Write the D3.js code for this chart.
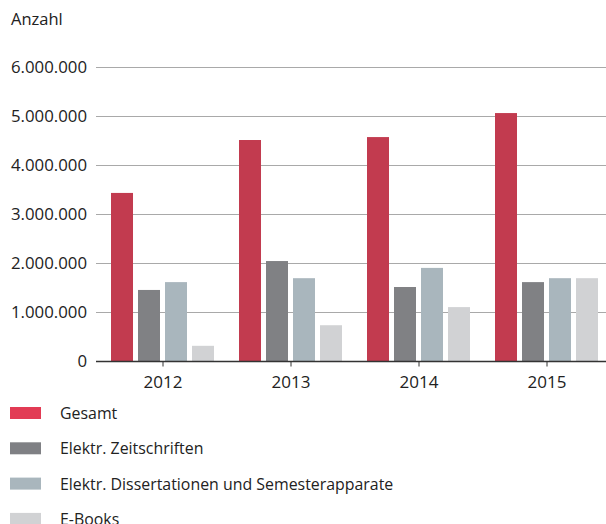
<!DOCTYPE html>
<html>
<head>
<meta charset="utf-8">
<script src="https://cdn.jsdelivr.net/npm/d3@7"></script>
<style>
  body { margin: 0; background: #fff; }
  svg text { font-family: "Open Sans", "Noto Sans", sans-serif; fill: #222; }
</style>
</head>
<body>
<svg id="chart" width="606" height="524"></svg>
<script>
// data
const years = ["2012", "2013", "2014", "2015"];
const seriesNames = ["Gesamt", "Elektr. Zeitschriften", "Elektr. Dissertationen und Semesterapparate", "E-Books"];
const gesamt = [3430000, 4510000, 4570000, 5060000];
const zeitschriften = [1450000, 2040000, 1510000, 1610000];
const dissertationen = [1610000, 1690000, 1900000, 1690000];
const ebooks = [310000, 730000, 1100000, 1690000];
const yTicks = [0, 1000000, 2000000, 3000000, 4000000, 5000000, 6000000];

const barColors = ["#c23b4f", "#808184", "#a9b6bd", "#d1d2d4"];
const legendColors = ["#e23b54", "#7f8084", "#a9b6bd", "#d1d2d4"];

const values = [gesamt, zeitschriften, dissertationen, ebooks];

const svg = d3.select("#chart");

const x = d3.scaleBand().domain(years).range([99, 611]).padding(0);
const xSeries = d3.scaleBand().domain(seriesNames).range([12, 115]).paddingInner(0.185);
const y = d3.scaleLinear().domain([0, 6000000]).range([361, 67]);

const fmt = d => d3.format(",")(d).replace(/,/g, ".");

// gridlines
svg.append("g")
  .selectAll("line")
  .data(yTicks.filter(d => d > 0))
  .join("line")
  .attr("x1", 96).attr("x2", 606)
  .attr("y1", d => Math.round(y(d)) + 0.5)
  .attr("y2", d => Math.round(y(d)) + 0.5)
  .attr("stroke", "#a9a9a9");

// y tick labels
svg.append("g")
  .selectAll("text")
  .data(yTicks)
  .join("text")
  .attr("x", 87)
  .attr("y", d => y(d))
  .attr("dy", "0.35em")
  .attr("text-anchor", "end")
  .attr("font-size", 16.8)
  .text(fmt);

svg.append("text")
  .attr("x", 11).attr("y", 25)
  .attr("font-size", 16.5)
  .text("Anzahl");

// bars
const groups = svg.append("g")
  .selectAll("g")
  .data(years)
  .join("g")
  .attr("transform", d => `translate(${x(d)},0)`);

groups.selectAll("rect")
  .data((yr, i) => seriesNames.map((s, j) => ({ s, j, v: values[j][i] })))
  .join("rect")
  .attr("x", d => xSeries(d.s))
  .attr("width", xSeries.bandwidth())
  .attr("y", d => y(d.v))
  .attr("height", d => y(0) - y(d.v))
  .attr("fill", d => barColors[d.j]);

// x axis
const xAxis = svg.append("g")
  .attr("transform", `translate(0,${Math.round(y(0)) + 0.5})`)
  .call(d3.axisBottom(x).tickSize(5).tickSizeOuter(0));
xAxis.select(".domain").remove();
xAxis.append("line")
  .attr("x1", 96).attr("x2", 606)
  .attr("stroke", "#333").attr("stroke-width", 1.5);
xAxis.selectAll(".tick line").attr("stroke", "#333");
xAxis.selectAll(".tick text")
  .attr("font-size", 17)
  .attr("font-family", "Open Sans, Noto Sans, sans-serif")
  .attr("fill", "#222")
  .attr("y", 14);

// legend
const legend = svg.append("g")
  .selectAll("g")
  .data(seriesNames)
  .join("g")
  .attr("transform", (d, i) => `translate(10,${407 + i * 35.3})`);

legend.append("rect")
  .attr("width", 31).attr("height", 12)
  .attr("fill", (d, i) => legendColors[i]);

legend.append("text")
  .attr("x", 50).attr("y", 12)
  .attr("font-size", 15.9)
  .text(d => d);
</script>
</body>
</html>
